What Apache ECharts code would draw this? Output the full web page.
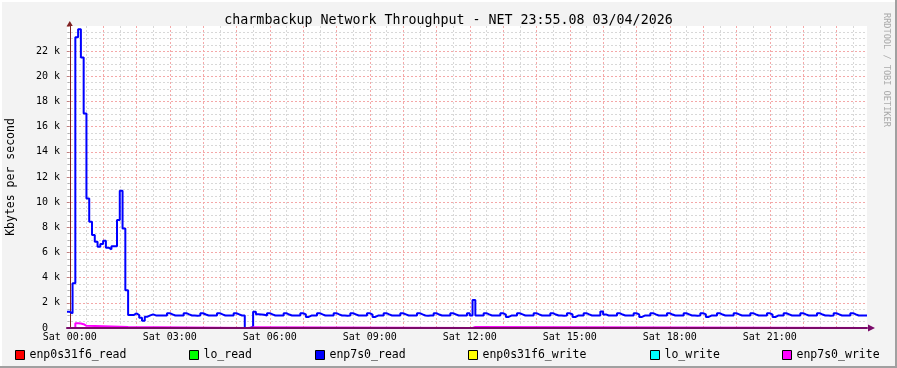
<!DOCTYPE html>
<html>
<head>
<meta charset="utf-8">
<script src="https://cdn.jsdelivr.net/npm/echarts@6/dist/echarts.min.js"></script>
<style>
html,body{margin:0;padding:0;background:#f3f3f3;}
#chart{width:897px;height:368px;}
</style>
</head>
<body>
<div id="chart"></div>
<script>
// ---------- DATA ----------
const titleText = 'charmbackup Network Throughput - NET 23:55.08 03/04/2026';
const yAxisName = 'Kbytes per second';
const watermark = 'RRDTOOL / TOBI OETIKER';

// time axis in minutes relative to Sat 00:00
const startMinute = -5;
const stepMinutes = 5;
const endMinute = 1435;

const xLabelMinutes = [0, 180, 360, 540, 720, 900, 1080, 1260];
const xLabelTexts = ['Sat 00:00', 'Sat 03:00', 'Sat 06:00', 'Sat 09:00', 'Sat 12:00', 'Sat 15:00', 'Sat 18:00', 'Sat 21:00'];
// grid lines every 30 min (hour = red, half hour = grey)
const gridMinutes = [];
for (let m = 0; m <= 1410; m += 30) gridMinutes.push(m);

const seriesNames = ['enp0s31f6_read', 'lo_read', 'enp7s0_read', 'enp0s31f6_write', 'lo_write', 'enp7s0_write'];
const seriesColors = ['#ff0000', '#00ff00', '#0000ff', '#ffff00', '#00ffff', '#ff00ff'];

// enp7s0_read, one value per 5-minute step (Kbytes/s)
const enp7s0Read = [
  1290, 1170, 3550, 23100, 23750, 21500, 17050, 10300, 8450, 7400, 6850, 6450, 6670, 6930, 6380, 6250, 6500, 6500, 8580, 10900, 7900, 3000,
  1030, 1030,
  1170, 1030, 820, 580, 900, 1000,
  1080, 1000, 990, 990, 990, 990,
  1180, 1080, 990, 990, 990, 990,
  1180, 1080, 990, 990, 980, 990,
  1170, 1070, 990, 990, 990, 990,
  1180, 1080, 990, 990, 990, 990,
  1170, 1080, 990, 990,
  0, 0, 100,
  1300, 1100, 1080, 1050, 1000,
  1180, 1080, 990, 990, 990, 990,
  1180, 1070, 990, 990, 990, 990,
  1170, 1080, 880, 990, 990, 990,
  1180, 1080, 990, 990, 990, 990,
  1180, 1080, 990, 990, 980, 990,
  1170, 1080, 990, 990, 990, 990,
  1180, 1070, 880, 990, 990, 990,
  1180, 1080, 990, 990, 990, 990,
  1170, 1080, 990, 990, 990, 990,
  1180, 1080, 990, 980, 990, 990,
  1180, 1070, 990, 990, 990, 990,
  1170, 1080, 990, 990, 990, 990,
  1170, 1000, 2220, 1000, 990, 990,
  1180, 1080, 990, 990, 990, 990,
  1180, 1070, 880, 990, 990, 990,
  1170, 1080, 990, 990, 990, 990,
  1180, 1080, 990, 990, 990, 990,
  1180, 1070, 990, 990, 980, 990,
  1170, 1080, 870, 990, 990, 990,
  1180, 1080, 990, 990, 990, 990,
  1320, 1080, 990, 990, 990, 990,
  1180, 1070, 990, 990, 990, 990,
  1170, 1080, 880, 990, 990, 990,
  1180, 1080, 990, 990, 990, 990,
  1180, 1070, 990, 990, 990, 990,
  1170, 1080, 990, 990, 980, 990,
  1180, 1080, 880, 990, 990, 990,
  1180, 1070, 990, 990, 990, 990,
  1170, 1080, 990, 990, 990, 990,
  1180, 1080, 990, 990, 990, 990,
  1180, 1070, 870, 990, 990, 990,
  1170, 1080, 990, 990, 990, 990,
  1180, 1080, 990, 990, 990, 990,
  1180, 1070, 990, 990, 980, 990,
  1170, 1080, 990, 990, 990, 990,
  1180, 1080, 990, 990, 990, 990
];

// enp7s0_write: change points (minute, value)
const enp7s0WriteMinutes = [-5, 10, 15, 20, 25, 30, 105, 320, 330, 725, 730, 1435];
const enp7s0WriteValues  = [0, 380, 360, 300, 170, 80, 0, 50, 0, 80, 0, 0];

// all-zero series: change points
const zeroMinutes = [-5, 1435];
const zeroValues = [0, 0];

// ---------- BUILD ----------
const MONO = '"DejaVu Sans Mono", monospace';

function stepPairs(minutes, values) {
  return minutes.map((m, i) => [m, values[i]]);
}
const readMinutes = enp7s0Read.map((v, i) => startMinute + i * stepMinutes);
readMinutes.push(endMinute);
const readValues = enp7s0Read.slice();
readValues.push(enp7s0Read[enp7s0Read.length - 1]);

const seriesData = [
  stepPairs(zeroMinutes, zeroValues),
  stepPairs(zeroMinutes, zeroValues),
  stepPairs(readMinutes, readValues),
  stepPairs(zeroMinutes, zeroValues),
  stepPairs(zeroMinutes, zeroValues),
  stepPairs(enp7s0WriteMinutes, enp7s0WriteValues)
];

const legendLeft = [15, 189, 315, 468, 650, 782];

const chart = echarts.init(document.getElementById('chart'), null, {renderer: 'canvas'});
const option = {
  backgroundColor: '#f3f3f3',
  animation: false,
  title: {
    text: titleText, left: 'center', top: 9,
    textStyle: {fontFamily: MONO, fontSize: 13.3, fontWeight: 'normal', color: '#000'}
  },
  legend: seriesNames.map((n, i) => ({
    data: [n], left: legendLeft[i], top: 349, padding: 0, itemGap: 0,
    icon: 'rect', itemWidth: 9, itemHeight: 9, selectedMode: false,
    itemStyle: {borderColor: '#000', borderWidth: 1},
    textStyle: {fontFamily: MONO, fontSize: 11.5, color: '#000'}
  })),
  grid: {left: 67, top: 26, width: 800, height: 302, show: true, backgroundColor: '#ffffff', borderWidth: 0,
         containLabel: false, outerBoundsMode: 'none'},
  xAxis: [
    {
      type: 'value', min: startMinute, max: endMinute, position: 'bottom', z: 3,
      axisLine: {lineStyle: {color: '#7a0a6a', width: 2}, symbol: ['none', 'triangle'], symbolSize: [7, 7], symbolOffset: [0, 4.5]},
      axisTick: {show: false},
      axisLabel: {
        customValues: xLabelMinutes,
        formatter: v => xLabelTexts[xLabelMinutes.indexOf(v)] || '',
        fontFamily: MONO, fontSize: 10, color: '#000', margin: 4
      },
      splitLine: {show: false}
    },
    {
      type: 'value', min: startMinute, max: endMinute, position: 'top',
      axisLine: {show: false},
      axisTick: {show: false, customValues: gridMinutes},
      axisLabel: {show: false},
      splitLine: {show: true, lineStyle: {color: ['#f4a8a8', '#d8d8d8'], type: [2, 2], width: 1}}
    }
  ],
  yAxis: {
    type: 'value', min: 0, max: 24000, interval: 2000,
    name: yAxisName, nameLocation: 'middle', nameGap: 50, nameRotate: 90,
    nameTextStyle: {fontFamily: MONO, fontSize: 11.5, color: '#000'},
    axisLine: {show: true, lineStyle: {color: '#7f2020'}, symbol: ['none', 'triangle'], symbolSize: [6, 5], symbolOffset: [0, 2.5]},
    axisTick: {show: true, length: 3, lineStyle: {color: '#c08080'}},
    minorTick: {show: true, splitNumber: 4, length: 2, lineStyle: {color: '#b0b0b0'}},
    axisLabel: {
      formatter: v => v === 0 ? '0  ' : (v / 1000) + ' k',
      fontFamily: MONO, fontSize: 10, color: '#000', margin: 7, showMaxLabel: false
    },
    splitLine: {show: true, showMaxLine: false, lineStyle: {color: '#f4a8a8', type: [2, 2]}},
    minorSplitLine: {show: true, lineStyle: {color: '#d8d8d8', type: [2, 2]}}
  },
  series: seriesNames.map((n, i) => ({
    name: n, type: 'line', step: 'end', showSymbol: false, symbol: 'none',
    xAxisIndex: 0, yAxisIndex: 0,
    data: seriesData[i],
    color: seriesColors[i],
    itemStyle: {color: seriesColors[i]},
    lineStyle: {color: seriesColors[i], width: 2},
    z: 2 + i * 0.01
  })),
  graphic: [
    {type: 'rect', shape: {x: 0, y: 0, width: 897, height: 2}, style: {fill: '#ffffff'}, silent: true},
    {type: 'rect', shape: {x: 0, y: 0, width: 2, height: 368}, style: {fill: '#ffffff'}, silent: true},
    {type: 'rect', shape: {x: 895, y: 0, width: 2, height: 368}, style: {fill: '#a0a0a0'}, silent: true},
    {type: 'rect', shape: {x: 0, y: 366, width: 897, height: 2}, style: {fill: '#a0a0a0'}, silent: true},
    {
      type: 'text', x: 886, y: 13, rotation: -Math.PI / 2, silent: true,
      style: {text: watermark, font: '8.6px "DejaVu Sans Mono"', fill: '#aaaaaa', textAlign: 'left', textVerticalAlign: 'middle'}
    }
  ]
};
chart.setOption(option);
</script>
</body>
</html>
